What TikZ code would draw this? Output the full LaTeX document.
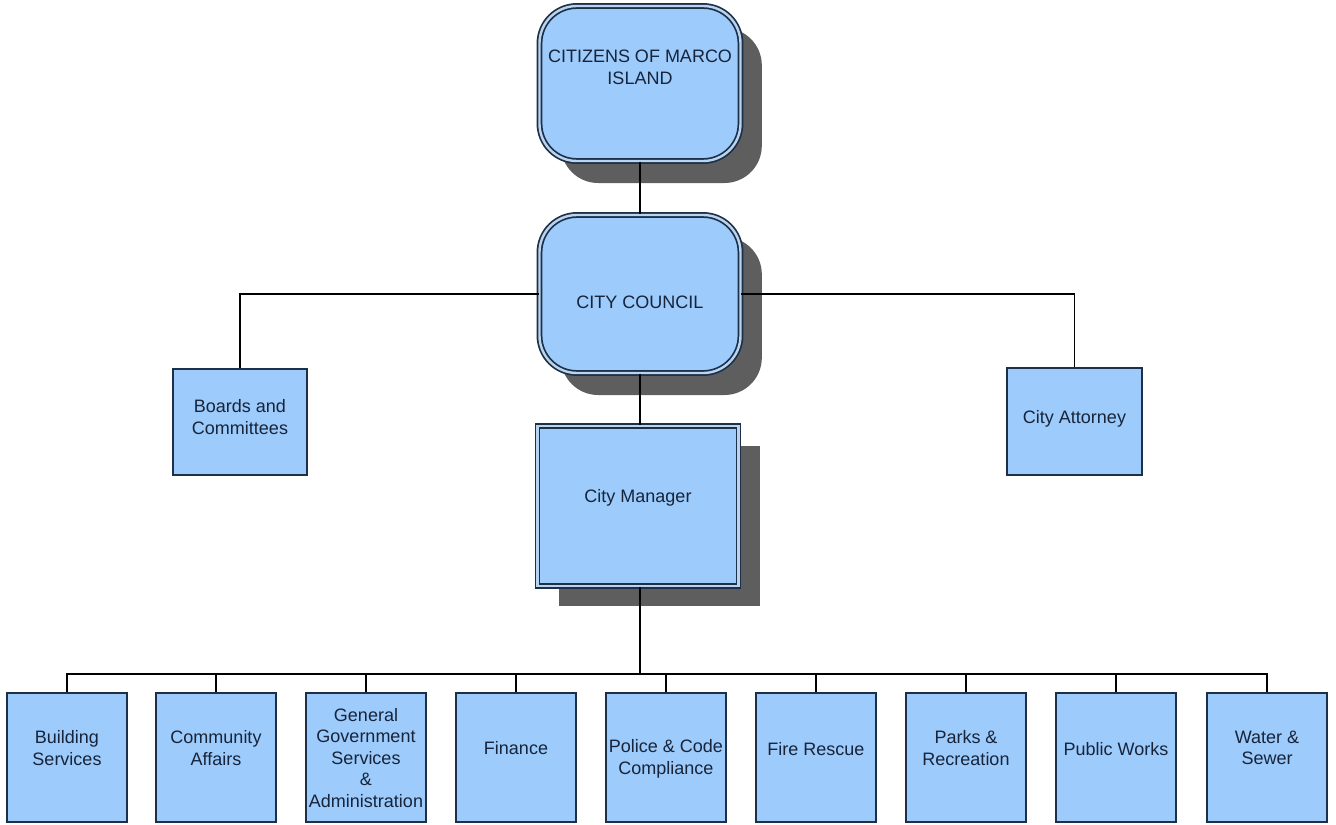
\documentclass[tikz,border=0pt]{standalone}
\usepackage{fontspec}
\setmainfont{Liberation Sans}
\usetikzlibrary{positioning, shadows}
\definecolor{boxblue}{HTML}{9DCBFB}
\definecolor{gapblue}{HTML}{B9D4EE}
\definecolor{navy}{HTML}{1E2F48}
\definecolor{inkblue}{HTML}{17243A}
\definecolor{shgray}{HTML}{5E5E5E}
\def\pxu{0.75pt}

\begin{document}
\begin{tikzpicture}[x=\pxu, y=-\pxu,
  every node/.style={inner sep=0pt},
  lbl/.style={text=inkblue, align=center, font=\fontsize{13.5}{16.1}\selectfont},
  bigbox/.style={draw=navy, double=gapblue, double distance=1.8pt, line width=1.3pt,
    fill=boxblue, rounded corners=28pt, minimum width=201*\pxu, minimum height=155*\pxu,
    drop shadow={shadow xshift=16pt, shadow yshift=-16.5pt, opacity=1, fill=shgray}},
  mgrbox/.style={draw=navy, double=gapblue, double distance=1.8pt, line width=1.3pt,
    fill=boxblue, minimum width=201*\pxu, minimum height=160*\pxu,
    drop shadow={shadow xshift=16pt, shadow yshift=-15pt, opacity=1, fill=shgray}},
  sidebox/.style={draw=navy, line width=1.3pt, fill=boxblue,
    minimum width=134*\pxu, minimum height=106*\pxu},
  unit/.style={draw=navy, line width=1.3pt, fill=boxblue,
    minimum width=120*\pxu, minimum height=129*\pxu},
  link/.style={draw=black, line width=1.35pt}]

\useasboundingbox (0,0) rectangle (1336,825);

% ============================================================
% Top: citizens and council
% ============================================================
\node[bigbox] (citizens) at (640,83.5) {};
\node[lbl] (citizenst) at (640,67.5) {CITIZENS OF MARCO\\ISLAND};

\node[bigbox, minimum height=158*\pxu] (council) at (640,294) {};
\node[lbl] (councilt) at (640,302) {CITY COUNCIL};

% Side offices
\node[sidebox] (boards) at (240,422) {};
\node[lbl] (boardst) at (240,417) {Boards and\\Committees};

\node[sidebox, minimum width=135*\pxu, minimum height=107*\pxu] (attorney) at (1074.5,421.5) {};
\node[lbl] (attorneyt) at (1074.5,419) {City Attorney};

% City manager
\node[mgrbox] (manager) at (638,506) {};
\node[lbl] (managert) at (638,498) {City Manager};

% ============================================================
% Departments
% ============================================================
\foreach \nm/\xc/\ty/\txt in {bldg/67/748/{Building\\Services}, comm/216/748/{Community\\Affairs},
    ggs/366/758/{General\\Government\\Services\\\&\\Administration}, fin/516/748/{Finance},
    police/666/759/{Police \& Code\\Compliance}, fire/816/749/{Fire Rescue},
    parks/966/748/{Parks \&\\Recreation}, pw/1116/749/{Public Works}, water/1267/748/{Water \&\\Sewer}} {
  \node[unit] (\nm) at (\xc,757.5) {};
  \node[lbl] (\nm t) at (\xc,\ty) {\txt};
}

% ============================================================
% Connectors
% ============================================================
\draw[link] (citizens) -- (council);
\draw[link] (council.west) -| (boards.north);
\draw[link] (council.east) -| (attorney.north);
\draw[link] (council.south) -- (council.south |- manager.north);

\coordinate (bus) at (640,674);
\draw[link] (council.south |- manager.south) -- (bus);
\foreach \nm in {bldg, comm, ggs, fin, police, fire, parks, pw, water}
  \draw[link] (bus) -| (\nm.north);

\end{tikzpicture}
\end{document}
